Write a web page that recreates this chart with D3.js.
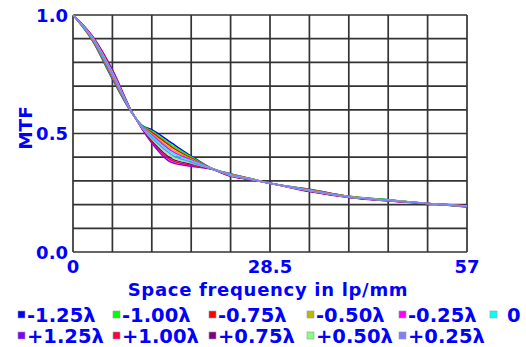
<!DOCTYPE html>
<html>
<head>
<meta charset="utf-8">
<script src="https://cdn.jsdelivr.net/npm/d3@7"></script>
<style>
  body { margin: 0; background: #fff; }
  svg text { font-family: "DejaVu Sans", Verdana, sans-serif; font-weight: bold; fill: #0000ff; }
</style>
</head>
<body>
<svg id="svg" width="526" height="347"></svg>
<script>
// spatial frequency (lp/mm)
const freqs = [0, 2.85, 5.7, 8.55, 9.975, 11.4, 14.25, 17.1, 19.95, 22.8, 25.65, 28.5, 34.2, 39.9, 45.6, 51.3, 57];

// MTF per defocus
const mtfM125 = [1, 0.890, 0.730, 0.585, 0.535, 0.516, 0.460, 0.405, 0.355, 0.330, 0.310, 0.29, 0.265, 0.235, 0.220, 0.205, 0.190];
const mtfM100 = [1, 0.892, 0.734, 0.586, 0.534, 0.510, 0.452, 0.401, 0.355, 0.329, 0.310, 0.29, 0.264, 0.235, 0.220, 0.205, 0.191];
const mtfM075 = [1, 0.894, 0.738, 0.586, 0.532, 0.505, 0.444, 0.396, 0.354, 0.328, 0.309, 0.29, 0.263, 0.234, 0.219, 0.205, 0.191];
const mtfM050 = [1, 0.896, 0.742, 0.587, 0.531, 0.499, 0.435, 0.392, 0.354, 0.327, 0.309, 0.29, 0.262, 0.234, 0.219, 0.205, 0.192];
const mtfM025 = [1, 0.898, 0.746, 0.587, 0.529, 0.494, 0.427, 0.388, 0.353, 0.326, 0.308, 0.29, 0.261, 0.233, 0.218, 0.205, 0.192];
const mtf0    = [1, 0.900, 0.750, 0.588, 0.528, 0.488, 0.419, 0.384, 0.353, 0.325, 0.308, 0.29, 0.260, 0.233, 0.218, 0.205, 0.193];
const mtfP025 = [1, 0.902, 0.754, 0.588, 0.526, 0.482, 0.411, 0.379, 0.352, 0.324, 0.307, 0.29, 0.259, 0.232, 0.217, 0.205, 0.193];
const mtfP050 = [1, 0.904, 0.758, 0.588, 0.525, 0.477, 0.403, 0.375, 0.352, 0.323, 0.307, 0.29, 0.258, 0.232, 0.217, 0.205, 0.194];
const mtfP075 = [1, 0.906, 0.762, 0.589, 0.523, 0.471, 0.394, 0.371, 0.351, 0.322, 0.306, 0.29, 0.257, 0.231, 0.216, 0.205, 0.194];
const mtfP100 = [1, 0.908, 0.766, 0.589, 0.522, 0.466, 0.386, 0.366, 0.351, 0.321, 0.306, 0.29, 0.256, 0.231, 0.216, 0.205, 0.195];
const mtfP125 = [1, 0.910, 0.770, 0.590, 0.520, 0.460, 0.378, 0.362, 0.350, 0.320, 0.305, 0.29, 0.255, 0.230, 0.215, 0.205, 0.195];

// legend order
const labels = ["-1.25λ", "-1.00λ", "-0.75λ", "-0.50λ", "-0.25λ", "0",
                "+1.25λ", "+1.00λ", "+0.75λ", "+0.50λ", "+0.25λ"];
const colors = ["#0000ff", "#00ff00", "#ff0000", "#b8b800", "#ff00ff", "#00ffff",
                "#8000ff", "#ff0040", "#800080", "#80ff80", "#8080ff"];
const values = [mtfM125, mtfM100, mtfM075, mtfM050, mtfM025, mtf0,
                mtfP125, mtfP100, mtfP075, mtfP050, mtfP025];

const xTicks = [0, 28.5, 57];
const yTicks = [0, 0.5, 1];

const svg = d3.select('#svg');

const x = d3.scaleLinear().domain([0, 57]).range([73, 467]);
const y = d3.scaleLinear().domain([0, 1]).range([252, 15]);

// grid
const grid = svg.append("g").attr("stroke", "#333").attr("stroke-width", 1.7);
d3.range(11).forEach(i => {
    grid.append("line").attr("x1", x(i * 5.7)).attr("x2", x(i * 5.7)).attr("y1", y(0)).attr("y2", y(1));
    grid.append("line").attr("x1", x(0)).attr("x2", x(57)).attr("y1", y(i / 10)).attr("y2", y(i / 10));
});

// curves
const renderPath = d3.line()
    .x((d, i) => x(freqs[i]))
    .y(d => y(d))
    .curve(d3.curveMonotoneX);

values.forEach((v, i) => {
    svg.append("path").datum(v)
        .attr("d", renderPath)
        .attr("fill", "none")
        .style("stroke", colors[i])
        .style("stroke-width", 1.5);
});

// tick labels
svg.selectAll(".ylab").data(yTicks).enter().append("text")
    .attr("x", 68).attr("y", d => y(d) + 6.5)
    .attr("text-anchor", "end").attr("font-size", 18)
    .text(d => d.toFixed(1));

svg.selectAll(".xlab").data(xTicks).enter().append("text")
    .attr("x", d => x(d)).attr("y", 273)
    .attr("text-anchor", "middle").attr("font-size", 18)
    .text(d => d);

svg.append("text").attr("x", 268).attr("y", 296)
    .attr("text-anchor", "middle").attr("font-size", 18)
    .attr("letter-spacing", 0.7)
    .text("Space frequency in lp/mm");

svg.append("text")
    .attr("transform", "translate(32,128) rotate(-90)")
    .attr("text-anchor", "middle").attr("font-size", 18.5)
    .text("MTF");

// legend
const colX = [18, 113, 209, 307, 399, 490];
labels.forEach((l, i) => {
    const row = i < 6 ? 0 : 1;
    const col = row ? i - 6 : i;
    const cy = row ? 336 : 315;
    svg.append("rect")
        .attr("x", colX[col]).attr("y", cy - 4).attr("width", 7).attr("height", 7)
        .attr("fill", colors[i]).attr("stroke", "#999").attr("stroke-width", 0.6);
    svg.append("text")
        .attr("x", colX[col] + (l === "0" ? 17 : 9)).attr("y", cy + 7)
        .attr("font-size", 19.5)
        .text(l);
});
</script>
</body>
</html>
